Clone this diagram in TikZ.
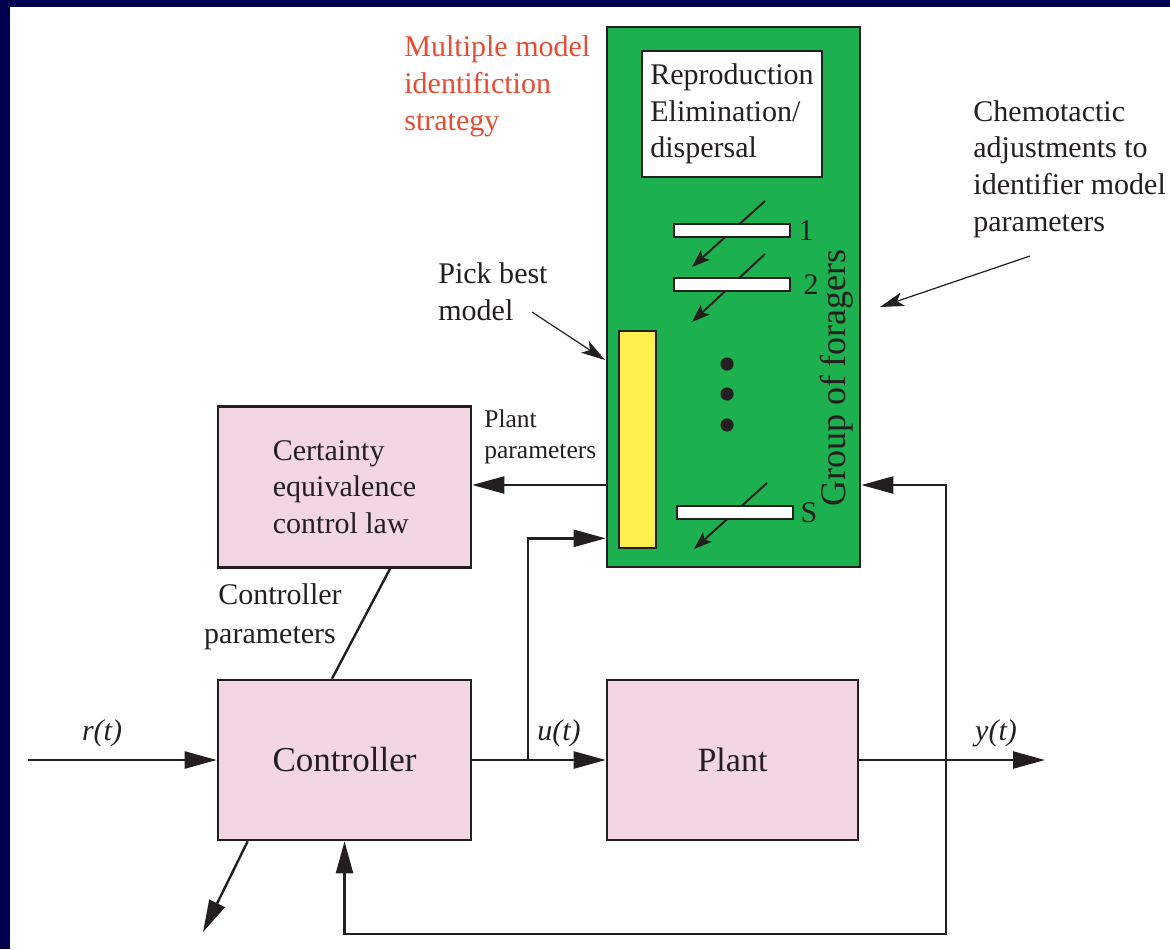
\documentclass[tikz,border=0pt]{standalone}
\usepackage{fontspec}
\setmainfont{Liberation Serif}
\usetikzlibrary{arrows.meta,calc}

\definecolor{navyframe}{RGB}{0,0,80}
\definecolor{ink}{RGB}{35,31,32}
\definecolor{blockpink}{RGB}{243,214,228}
\definecolor{foragegreen}{RGB}{29,176,78}
\definecolor{pickyellow}{RGB}{255,240,80}
\definecolor{titlered}{RGB}{232,76,50}

\tikzset{
  blk/.style={draw=ink,line width=1.3pt,fill=blockpink,inner sep=0pt,text=ink},
  sig/.style={draw=ink,line width=1.2pt,-{Triangle[length=16pt,width=8.5pt]}},
  wire/.style={draw=ink,line width=1.2pt},
  note/.style={draw=ink,line width=0.6pt,-{Stealth[length=12pt,width=7pt,inset=3pt]}},
  tweak/.style={draw=ink,line width=1pt,-{Stealth[length=9pt,width=6.5pt,inset=2pt]}},
  bar/.style={draw=ink,line width=1.2pt,fill=white,inner sep=0pt,minimum width=58pt,minimum height=6.5pt},
  lbl/.style={font=\fontsize{15}{18.3}\selectfont,text=ink,inner sep=0pt},
}

\begin{document}
\begin{tikzpicture}[x=0.5pt,y=0.5pt,yscale=-1,xscale=1]
\useasboundingbox (0,0) rectangle (1170,949);
%Frame
\fill[navyframe] (0,0) rectangle (1170,949);
\fill[white] (10,7) rectangle (1170,949);

%Shape: Rectangle (group of foragers)
\node[blk,fill=foragegreen,minimum width=126.5pt,minimum height=270pt] (forag) at (733.5,297) {};
%Shape: Rectangle (reproduction)
\node[blk,fill=white,minimum width=90pt,minimum height=63pt,align=left,font=\fontsize{15}{18.3}\selectfont] (repro) at (732,114) {Reproduction\\Elimination/\\dispersal};
%Shape: Rectangle (pick best)
\node[blk,fill=pickyellow,line width=1.2pt,minimum width=18.5pt,minimum height=108.5pt] (pick) at (637.5,439.5) {};

%Straight Lines (chemotactic tweaks)
\coordinate (t1a) at (765,201); \coordinate (t1b) at (692,267);
\coordinate (t2a) at (765,254); \coordinate (t2b) at (692,322);
\coordinate (tsa) at (767,483); \coordinate (tsb) at (694,549);
\draw[tweak] (t1a) -- (t1b);
\draw[tweak] (t2a) -- (t2b);
\draw[tweak] (tsa) -- (tsb);
%Shape: Bars
\node[bar] (bar1) at (732,230.5) {};
\node[bar] (bar2) at (732,284.5) {};
\node[bar] (barS) at (735,512.5) {};
\draw (bar1.east) node [lbl,anchor=west,xshift=3.5pt] (lab1) {1};
\draw (bar2.east) node [lbl,anchor=west,xshift=6pt] (lab2) {2};
\draw (barS.east) node [lbl,anchor=west,xshift=3pt] (labS) {S};
%Shape: Dots
\foreach \yy in {364,394,425}
  \fill[ink] (727,\yy) circle (3.3pt);
% Text Node
\draw (837,378) node [rotate=90,text=ink,inner sep=0pt,font=\fontsize{18}{21}\selectfont] (grp) {Group of foragers};

%Shape: Rectangle (certainty equivalence)
\node[blk,minimum width=126.5pt,minimum height=80.5pt,align=left,font=\fontsize{15}{18.3}\selectfont] (celaw) at (344.5,487) {Certainty\\equivalence\\control law};
%Shape: Rectangle (controller)
\node[blk,minimum width=126.5pt,minimum height=80pt,font=\fontsize{17.5}{21}\selectfont] (ctrl) at (344.5,760) {Controller};
%Shape: Rectangle (plant)
\node[blk,minimum width=125.5pt,minimum height=80pt,font=\fontsize{17}{21}\selectfont] (plant) at (732.5,760) {Plant};

%Straight Lines (signals)
\coordinate (rin) at (28,760);
\coordinate (ubr) at (528,760);
\coordinate (ybr) at (946,760);
\coordinate (yout) at (1045,760);
\coordinate (fbc) at (946,934);
\coordinate (cout) at (203,932);
\draw[sig] (rin) -- (ctrl.west);
\draw[sig] (ctrl.east) -- (plant.west);
\draw[sig] (plant.east) -- (yout);
\draw[sig] (ubr) |- ($(forag.south west)+(0,-30)$);
\draw[sig] (forag.west |- 0,485) -- (celaw.east |- 0,485);
\draw[sig] (ybr) |- (forag.east |- 0,485);
\draw[sig] (ybr) -- (fbc) -| (ctrl.south);
\draw[sig] ($(ctrl.south west)+(31,0)$) -- (cout);
\draw[wire] (celaw.south -| 390,0) -- (ctrl.north -| 332,0);

%Straight Lines (annotations)
\coordinate (pka) at (532,312); \coordinate (pkb) at (605,360);
\coordinate (cha) at (1030,256); \coordinate (chb) at (880,307);
\draw[note] (pka) -- (pkb);
\draw[note] (cha) -- (chb);

% Text Node
\draw (404,130) node [lbl,anchor=base west,align=left,text=titlered] (ttl) {Multiple model\\identifiction\\strategy};
% Text Node
\draw (438,320) node [lbl,anchor=base west,align=left] (pktxt) {Pick best\\model};
% Text Node
\draw (973,231) node [lbl,anchor=base west,align=left] (chtxt) {Chemotactic\\adjustments to\\identifier model\\parameters};
% Text Node
\draw (484,458) node [anchor=base west,align=left,inner sep=0pt,text=ink,font=\fontsize{12.75}{15.5}\selectfont] (pptxt) {Plant\\parameters};
% Text Node
\draw (270,643) node [lbl,anchor=base,align=center] (cptxt) {\hspace*{10pt}Controller\\[1.2pt]parameters};
% Text Node
\draw (102,740) node [lbl,anchor=base] (rtxt) {\textit{r(t)}};
% Text Node
\draw (559,740) node [lbl,anchor=base] (utxt) {\textit{u(t)}};
% Text Node
\draw (996,740) node [lbl,anchor=base] (ytxt) {\textit{y(t)}};
\end{tikzpicture}
\end{document}
